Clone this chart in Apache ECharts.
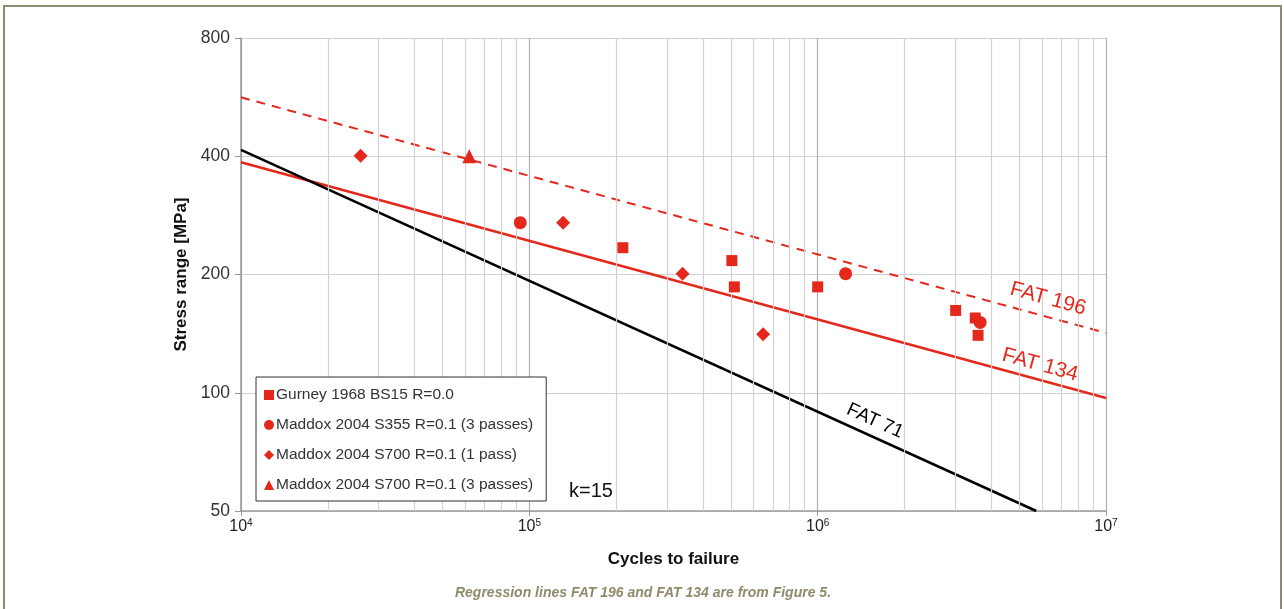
<!DOCTYPE html>
<html>
<head>
<meta charset="utf-8">
<script src="https://cdn.jsdelivr.net/npm/echarts@6/dist/echarts.min.js"></script>
<style>
html,body{margin:0;padding:0;background:#fff;overflow:hidden;}
#chart{position:absolute;left:0;top:0;width:1284px;height:609px;}
#frame{position:absolute;left:3px;top:5px;width:1275px;height:700px;border:2px solid #8f8b6f;pointer-events:none;}
</style>
</head>
<body>
<div id="chart"></div>
<div id="frame"></div>
<script>
// ---- data (cycles, stress range MPa) ----
const xTicks = [1e4, 1e5, 1e6, 1e7];
const yTicks = [50, 100, 200, 400, 800];

const gurney = [[2.11e5, 234], [5.04e5, 217], [5.14e5, 186], [1.0e6, 186], [3.01e6, 162], [3.52e6, 155], [3.6e6, 140]];
const maddoxS355_3 = [[9.3e4, 271], [1.25e6, 201], [3.66e6, 151]];
const maddoxS700_1 = [[2.6e4, 401], [1.31e5, 271], [3.4e5, 201], [6.47e5, 141]];
const maddoxS700_3 = [[6.19e4, 400]];

const fat196 = [[1e4, 565], [1e7, 142]];
const fat134 = [[1e4, 386], [1e7, 97]];
const fat71 = [[1e4, 415], [5.73e6, 50]];

const seriesNames = ['Gurney 1968 BS15 R=0.0', 'Maddox 2004 S355 R=0.1 (3 passes)', 'Maddox 2004 S700 R=0.1 (1 pass)', 'Maddox 2004 S700 R=0.1 (3 passes)'];

const RED = '#e4281c';
const Y0 = 50;
const ty = v => Math.log2(v / Y0);
const tr = arr => arr.map(p => [p[0], ty(p[1])]);

const minorX = [];
[1e4, 1e5, 1e6].forEach(d => { for (let k = 2; k <= 9; k++) minorX.push({ xAxis: k * d }); });

const chart = echarts.init(document.getElementById('chart'), null, { renderer: 'canvas' });
const FONT = 'Liberation Sans, Arial, sans-serif';
const NARROW = 'Liberation Sans Narrow, Liberation Sans, Arial, sans-serif';

chart.setOption({
  animation: false,
  backgroundColor: '#fff',
  grid: { left: 241, right: 178, top: 38, bottom: 98, containLabel: false },
  xAxis: {
    type: 'log', logBase: 10, min: xTicks[0], max: xTicks[xTicks.length - 1],
    name: 'Cycles to failure', nameLocation: 'middle', nameGap: 40,
    nameTextStyle: { fontFamily: FONT, fontSize: 17, fontWeight: 'bold', color: '#111' },
    axisLine: { show: true, lineStyle: { color: '#999', width: 1.5 } },
    axisTick: { show: true, length: 5, lineStyle: { color: '#999' } },
    axisLabel: {
      margin: 7, fontFamily: FONT,
      formatter: v => '{b|10}{s|' + Math.round(Math.log10(v)) + '}',
      rich: {
        b: { fontFamily: FONT, fontSize: 16, color: '#222' },
        s: { fontFamily: FONT, fontSize: 10, color: '#222', padding: [0, 0, 8, 0] }
      }
    },
    splitLine: { show: true, lineStyle: { color: '#b0b0b0', width: 1.2 } }
  },
  yAxis: {
    type: 'value', min: 0, max: ty(yTicks[yTicks.length - 1]), interval: 1,
    name: 'Stress range [MPa]', nameLocation: 'middle', nameGap: 48,
    nameTextStyle: { fontFamily: FONT, fontSize: 17, fontWeight: 'bold', color: '#111' },
    axisLine: { show: true, lineStyle: { color: '#999', width: 1.5 } },
    axisTick: { show: true, length: 6, lineStyle: { color: '#999' } },
    axisLabel: {
      margin: 11, fontFamily: FONT, fontSize: 17.5, color: '#333',
      formatter: v => String(Math.round(Y0 * Math.pow(2, v)))
    },
    splitLine: { show: true, lineStyle: { color: '#d0d0d0', width: 1.2 } }
  },
  legend: {
    orient: 'vertical', left: 256, top: 377, z: 20,
    data: seriesNames,
    backgroundColor: '#fff', borderColor: '#333', borderWidth: 1,
    padding: [10, 13, 8, 8], itemGap: 14, itemWidth: 10, itemHeight: 10,
    textStyle: { fontFamily: FONT, fontSize: 15.5, color: '#333', padding: [0, 0, 0, -3] }
  },
  series: [
    {
      type: 'line', name: 'grid', data: [], silent: true,
      markLine: {
        silent: true, symbol: ['none', 'none'], label: { show: false },
        lineStyle: { color: '#d2d2d2', type: 'solid', width: 1.2 },
        data: minorX
      }
    },
    { type: 'line', name: 'FAT 196', data: tr(fat196), symbol: 'none', silent: true,
      lineStyle: { color: RED, width: 2, type: [9, 7] }, z: 3 },
    { type: 'line', name: 'FAT 134', data: tr(fat134), symbol: 'none', silent: true,
      lineStyle: { color: RED, width: 2.5 }, z: 3 },
    { type: 'line', name: 'FAT 71', data: tr(fat71), symbol: 'none', silent: true,
      lineStyle: { color: '#000', width: 2.5 }, z: 3 },
    { type: 'scatter', name: seriesNames[0], data: tr(gurney), symbol: 'rect', symbolSize: 11,
      itemStyle: { color: RED, opacity: 1 }, z: 5 },
    { type: 'scatter', name: seriesNames[1], data: tr(maddoxS355_3), symbol: 'circle', symbolSize: 13,
      itemStyle: { color: RED, opacity: 1 }, z: 5 },
    { type: 'scatter', name: seriesNames[2], data: tr(maddoxS700_1), symbol: 'diamond', symbolSize: 14,
      itemStyle: { color: RED, opacity: 1 }, z: 5 },
    { type: 'scatter', name: seriesNames[3], data: tr(maddoxS700_3), symbol: 'triangle', symbolSize: 14,
      itemStyle: { color: RED, opacity: 1 }, z: 5 }
  ],
  graphic: [
    { type: 'text', x: 1048, y: 299, rotation: -0.27, style: { text: 'FAT 196', fill: RED, font: '21px ' + FONT, align: 'center', verticalAlign: 'middle' }, z: 10 },
    { type: 'text', x: 1040, y: 365, rotation: -0.27, style: { text: 'FAT 134', fill: RED, font: '21px ' + FONT, align: 'center', verticalAlign: 'middle' }, z: 10 },
    { type: 'text', x: 875, y: 421, rotation: -0.43, style: { text: 'FAT 71', fill: '#000', font: '19px ' + FONT, align: 'center', verticalAlign: 'middle' }, z: 10 },
    { type: 'text', x: 591, y: 491, style: { text: 'k=15', fill: '#111', font: '20px ' + FONT, align: 'center', verticalAlign: 'middle' }, z: 10 },
    { type: 'text', x: 643, y: 593, style: { text: 'Regression lines FAT 196 and FAT 134 are from Figure 5.', fill: '#8f8b6a', font: 'italic bold 14px ' + NARROW, align: 'center', verticalAlign: 'middle' }, z: 10 }
  ]
});
</script>
</body>
</html>
